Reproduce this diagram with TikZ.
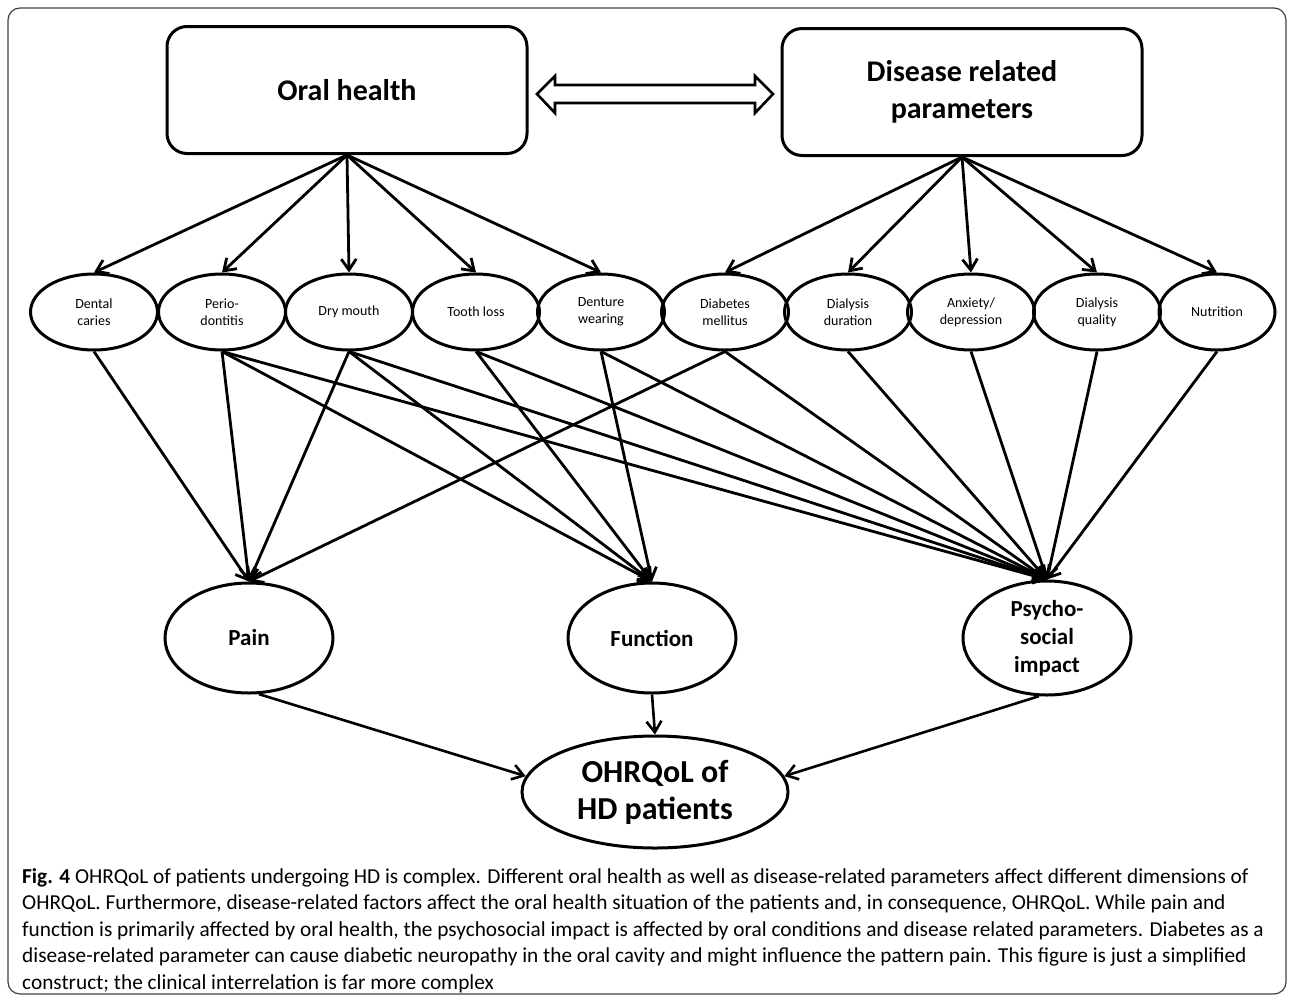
\documentclass[tikz,border=0pt]{standalone}
\usepackage{fontspec}
\setmainfont{Carlito}
\usetikzlibrary{arrows.meta,shapes.geometric,calc}
\begin{document}
\begin{tikzpicture}[x=1pt,y=-1pt,
  topbox/.style={draw, line width=3pt, rounded corners=20pt, minimum width=360pt, minimum height=127pt, align=center, font=\fontsize{30}{37}\selectfont\bfseries, inner sep=0pt},
  smallov/.style={draw, ellipse, line width=3pt, minimum width=127pt, minimum height=76pt, inner sep=0pt, align=center, font=\fontsize{14}{17}\selectfont},
  bigov/.style={draw, ellipse, line width=3pt, minimum width=168pt, minimum height=110pt, inner sep=0pt, align=center, font=\fontsize{23}{28}\selectfont\bfseries},
  conn/.style={line width=2.8pt, -{Straight Barb[length=11pt,width=15pt]}},
  conn2/.style={line width=2.6pt, -{Straight Barb[length=11pt,width=15pt]}},
  captext/.style={anchor=base west, inner sep=0pt, font=\fontsize{21.3}{26}\selectfont},
]
\useasboundingbox (0,0) rectangle (1293,1002);
\draw[line width=1.2pt, black!75, rounded corners=12pt] (8,8) rectangle (1286,994);

% top boxes
\node[topbox] (oh) at (347,90) {Oral health};
\node[topbox] (dr) at (962,92) {Disease related\\parameters};

% double arrow
\coordinate (la) at (537,94);
\coordinate (ra) at (773,94);
\draw[line width=2.6pt, line join=miter, fill=white]
  (la) -- ++(18,-18) -- ++(0,9) -- ($(ra)+(-18,-9)$) -- ++(0,-9) -- (ra)
  -- ++(-18,19) -- ++(0,-10) -- ($(la)+(18,9)$) -- ++(0,10) -- cycle;

% small ellipses
\node[smallov] (dc) at (94,312) {Dental\\caries};
\node[smallov] (pd) at (222,312) {Perio-\\dontitis};
\node[smallov] (dm) at (349,312) {Dry mouth};
\node[smallov] (tl) at (476,312) {Tooth loss};
\node[smallov] (dw) at (601,312) {Denture\\wearing};
\node[smallov] (dbm) at (725,312) {Diabetes\\mellitus};
\node[smallov] (dd) at (848,312) {Dialysis\\duration};
\node[smallov] (ad) at (971,312) {Anxiety/\\depression};
\node[smallov] (dq) at (1097,312) {Dialysis\\quality};
\node[smallov, minimum width=116pt] (nu) at (1217,312) {Nutrition};

% outcome ellipses
\node[bigov] (pain) at (249,638) {Pain};
\node[bigov] (fun) at (652,638) {Function};
\node[bigov, minimum height=114pt] (psy) at (1047,638) {Psycho-\\social\\impact};
\node[bigov, minimum width=266pt, minimum height=112pt, font=\fontsize{32}{37}\selectfont\bfseries] (ohr) at (655,792) {OHRQoL of\\HD patients};

% top arrows
\foreach \t in {dc,pd,dm,tl,dw} \draw[conn] (oh.south) -- (\t.north);
\foreach \t in {dbm,dd,ad,dq,nu} \draw[conn] (dr.south) -- (\t.north);

% to pain
\foreach \s in {dc,pd,dm,dbm} \draw[conn] (\s.south) -- (pain.north);
% to function
\foreach \s in {pd,dm,tl,dw} \draw[conn] (\s.south) -- (fun.north);
% to psycho
\foreach \s in {pd,dm,tl,dw,dbm,dd,ad,dq,nu} \draw[conn] (\s.south) -- (psy.north);

% to OHRQoL
\draw[conn2] (pain.280) -- (ohr.173);
\draw[conn2] (fun.south) -- (ohr.north);
\draw[conn2] (psy.262) -- (ohr.7);

% caption
\node[captext] (c1) at (22,883) {\textbf{Fig. 4} OHRQoL of patients undergoing HD is complex. Different oral health as well as disease-related parameters affect different dimensions of};
\node[captext] (c2) at (22,909.5) {OHRQoL. Furthermore, disease-related factors affect the oral health situation of the patients and, in consequence, OHRQoL. While pain and};
\node[captext] (c3) at (22,936) {function is primarily affected by oral health, the psychosocial impact is affected by oral conditions and disease related parameters. Diabetes as a};
\node[captext] (c4) at (22,962.5) {disease-related parameter can cause diabetic neuropathy in the oral cavity and might influence the pattern pain. This figure is just a simplified};
\node[captext] (c5) at (22,989) {construct; the clinical interrelation is far more complex};
\end{tikzpicture}
\end{document}
